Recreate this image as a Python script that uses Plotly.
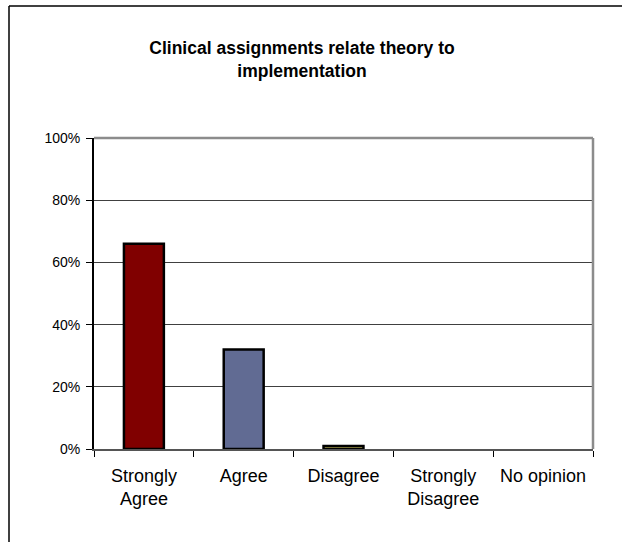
import plotly.graph_objects as go

# ── Data ───────────────────────────────────────────────────────────────────────
CATEGORIES = ["Strongly<br>Agree", "Agree", "Disagree", "Strongly<br>Disagree", "No opinion"]
SHARES = [0.66, 0.32, 0.01, 0.0, 0.0]
Y_TICKS = [0, 0.2, 0.4, 0.6, 0.8, 1.0]

BAR_COLORS = ["#800000", "#616B93", "#E8DC6A", "#9999FF", "#CCFFFF"]
FONT = "Arial, Liberation Sans, sans-serif"

W, H = 622, 542
L, T, R, B = 94, 138, 29, 93
PLOT_W = W - L - R
PLOT_H = H - T - B
# outer chart border, pixel position of its left and top edges
BORDER_X = -(L - 9) / PLOT_W
BORDER_Y = (H - B - 6) / PLOT_H

fig = go.Figure(go.Bar(
    x=CATEGORIES, y=SHARES,
    width=0.4,
    marker_color=BAR_COLORS,
    # empty categories get no outline (Excel draws nothing there)
    marker_line=dict(color="black", width=[2.5 if v > 0 else 0 for v in SHARES]),
    hovertemplate="%{x}: %{y:.0%}<extra></extra>",
))

fig.update_layout(
    width=W, height=H,
    margin=dict(l=L, r=R, t=T, b=B),
    paper_bgcolor="white",
    plot_bgcolor="white",
    font=dict(family=FONT, color="black"),
    showlegend=False,
    title=dict(
        text="<b>Clinical assignments relate theory to<br>implementation</b>",
        font=dict(size=17.5, family=FONT, color="black"),
        xref="container", x=302 / W, xanchor="center",
        yref="container", y=1 - 54 / H, yanchor="top",
    ),
    xaxis=dict(
        tickson="boundaries",
        ticks="outside", ticklen=6, tickcolor="black", tickwidth=1,
        showline=True, linecolor="#555555", linewidth=2,
        tickfont=dict(size=18),
        ticklabelstandoff=9,
        showgrid=False,
    ),
    yaxis=dict(
        range=[0, 1], tickvals=Y_TICKS, tickformat=".0%",
        ticks="outside", ticklen=6, tickcolor="black", tickwidth=1,
        showline=True, linecolor="black", linewidth=2,
        showgrid=True, gridcolor="#404040", gridwidth=1,
        tickfont=dict(size=14),
        ticklabelstandoff=3,
        zeroline=False,
    ),
    shapes=[
        # grey frame on top and right of plot area
        dict(type="line", xref="x domain", yref="y domain", x0=0, x1=1, y0=1, y1=1,
             line=dict(color="#8c8c8c", width=2.5)),
        dict(type="line", xref="x domain", yref="y domain", x0=1, x1=1, y0=0, y1=1,
             line=dict(color="#8c8c8c", width=2.5)),
        # outer chart border (only left and top visible in the crop)
        dict(type="line", xref="paper", yref="paper",
             x0=BORDER_X, x1=2, y0=BORDER_Y, y1=BORDER_Y,
             line=dict(color="black", width=1.5)),
        dict(type="line", xref="paper", yref="paper",
             x0=BORDER_X, x1=BORDER_X, y0=-1, y1=BORDER_Y,
             line=dict(color="black", width=1.5)),
    ],
)

# drop the default 8px body margin so the figure sits at the page corner
fig.write_html("out.html",
               config={"displayModeBar": False},
               post_script="document.body.style.margin='0';document.body.style.overflow='hidden';")
